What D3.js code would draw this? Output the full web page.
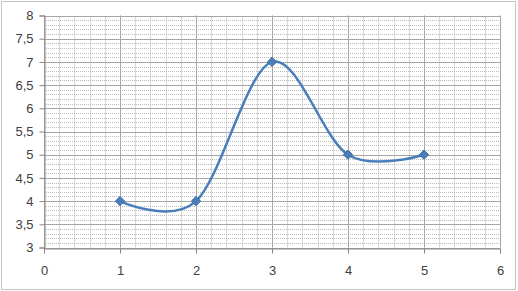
<!DOCTYPE html>
<html>
<head>
<meta charset="utf-8">
<script src="https://cdn.jsdelivr.net/npm/d3@7"></script>
<style>
  body { margin: 0; background: #fff; }
  svg { display: block; }
</style>
</head>
<body>
<div id="chart"></div>
<script>

// data
var xValues = [ 1, 2, 3, 4, 5 ];
var yValues = [ 4, 4, 7, 5, 5 ];
var xTicks = [ 0, 1, 2, 3, 4, 5, 6 ];
var yTicks = [ 3, 3.5, 4, 4.5, 5, 5.5, 6, 6.5, 7, 7.5, 8 ];

var width = 518,
    height = 291,
    margin = { top: 15.5, right: 18, bottom: 43.5, left: 44 };

var svg = d3.select('#chart').append('svg')
    .attr('width', width)
    .attr('height', height);

// outer dotted frame
svg.append('rect')
    .attr('x', 1.5)
    .attr('y', 1.5)
    .attr('width', width - 4)
    .attr('height', height - 3)
    .style('fill', 'none')
    .style('stroke', '#8a8a8a')
    .style('stroke-dasharray', '1,1');

var x = d3.scaleLinear()
    .domain([ 0, 6 ])
    .range([ margin.left, width - margin.right ]);

var y = d3.scaleLinear()
    .domain([ 3, 8 ])
    .range([ height - margin.bottom, margin.top ]);

var grid = svg.append('g');

// minor vertical grid (0.2)
grid.selectAll('.vminor')
    .data( d3.range( 0, 6.001, 0.2 ) )
    .enter().append('line')
    .attr('x1', function ( d ) { return Math.round( x( d ) ) + 0.5 })
    .attr('x2', function ( d ) { return Math.round( x( d ) ) + 0.5 })
    .attr('y1', y( 3 ))
    .attr('y2', y( 8 ))
    .style('stroke', '#d8d8d8');

// minor horizontal grid (0.1)
grid.selectAll('.hminor')
    .data( d3.range( 3, 8.001, 0.1 ) )
    .enter().append('line')
    .attr('x1', x( 0 ))
    .attr('x2', x( 6 ))
    .attr('y1', function ( d ) { return Math.round( y( d ) ) + 0.5 })
    .attr('y2', function ( d ) { return Math.round( y( d ) ) + 0.5 })
    .style('stroke', '#bcbcbc')
    .style('stroke-dasharray', '1,1');

// major vertical grid
grid.selectAll('.vmajor')
    .data( xTicks )
    .enter().append('line')
    .attr('x1', function ( d ) { return Math.round( x( d ) ) + 0.5 })
    .attr('x2', function ( d ) { return Math.round( x( d ) ) + 0.5 })
    .attr('y1', y( 3 ))
    .attr('y2', y( 8 ))
    .style('stroke', '#a6a6a6');

// major horizontal grid
grid.selectAll('.hmajor')
    .data( yTicks )
    .enter().append('line')
    .attr('x1', x( 0 ))
    .attr('x2', x( 6 ))
    .attr('y1', function ( d ) { return Math.round( y( d ) ) + 0.5 })
    .attr('y2', function ( d ) { return Math.round( y( d ) ) + 0.5 })
    .style('stroke', '#a6a6a6');

// axes
var fmt = function ( d ) { return String( d ).replace('.', ',') };

var yAxis = svg.append('g')
    .attr('transform', 'translate(' + ( Math.round( x( 0 ) ) + 0.5 ) + ',0)')
    .call( d3.axisLeft( y ).tickValues( yTicks ).tickFormat( fmt ).tickSize( 5 ).tickPadding( 6 ) );

var xAxis = svg.append('g')
    .attr('transform', 'translate(0,' + ( Math.round( y( 3 ) ) + 0.5 ) + ')')
    .call( d3.axisBottom( x ).tickValues( xTicks ).tickFormat( fmt ).tickSize( 5 ).tickPadding( 12 ) );

[ yAxis, xAxis ].forEach( function ( a ) {
    a.select('.domain').style('stroke', '#868686');
    a.selectAll('.tick line').style('stroke', '#868686');
    a.selectAll('.tick text')
        .style('font-family', '"Liberation Sans", Arial, sans-serif')
        .style('font-size', '13px')
        .style('fill', '#404040');
});

// smoothed series
var line = d3.line()
    .x( function ( d, i ) { return x( xValues[ i ] ) })
    .y( function ( d ) { return y( d ) })
    .curve( d3.curveCardinal.tension( 0 ) );

svg.append('path')
    .datum( yValues )
    .attr('d', line)
    .style('fill', 'none')
    .style('stroke', '#4a7ebb')
    .style('stroke-width', 2.5);

svg.selectAll('.marker')
    .data( yValues )
    .enter().append('path')
    .attr('d', d3.symbol().type( d3.symbolDiamond2 ).size( 55 ))
    .attr('transform', function ( d, i ) { return 'translate(' + x( xValues[ i ] ) + ',' + y( d ) + ')' })
    .style('fill', '#4a7ebb')
    .style('stroke', '#3a6aa5')
    .style('stroke-width', 1);

</script>
</body>
</html>
